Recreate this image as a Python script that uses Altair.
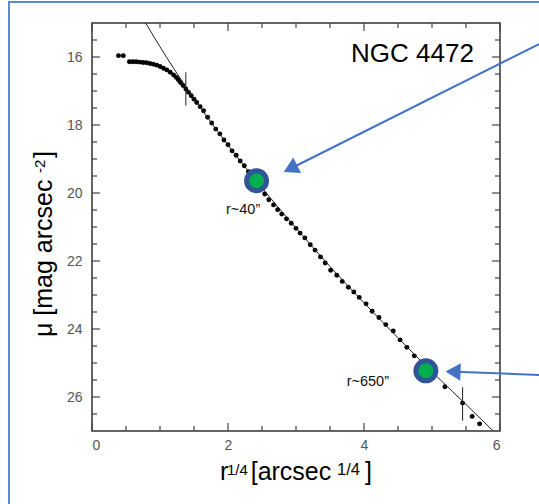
import altair as alt
import pandas as pd

FONT = "Liberation Sans"

# Surface-brightness profile of NGC 4472: r^(1/4) [arcsec^(1/4)] and mu [mag arcsec^-2]
r14 = [0.39, 0.46,
       0.55, 0.60, 0.65, 0.70, 0.75, 0.80, 0.85, 0.90, 0.95, 1.00, 1.05, 1.10,
       1.15, 1.20, 1.24, 1.27, 1.30, 1.34, 1.38, 1.42, 1.46, 1.50, 1.54, 1.59, 1.64,
       1.70, 1.76, 1.82, 1.88, 1.94, 2.00, 2.06, 2.12, 2.18, 2.24, 2.30, 2.36, 2.42, 2.48,
       2.54, 2.60, 2.67, 2.73, 2.79, 2.86, 2.93, 3.00, 3.06, 3.13, 3.21, 3.28, 3.36,
       3.43, 3.51, 3.60, 3.68, 3.77, 3.85, 3.93,
       4.03, 4.12, 4.22, 4.32, 4.43, 4.53, 4.63, 4.74, 4.85, 4.96,
       5.19, 5.45, 5.59, 5.70]
mu = [15.96, 15.96,
      16.14, 16.14, 16.14, 16.15, 16.16, 16.17, 16.19, 16.21, 16.24, 16.28, 16.33, 16.38,
      16.45, 16.53, 16.60, 16.67, 16.75, 16.84, 16.94, 17.04, 17.14, 17.24, 17.34, 17.46, 17.58,
      17.77, 17.94, 18.12, 18.26, 18.44, 18.58, 18.76, 18.89, 19.06, 19.20, 19.37, 19.50, 19.66, 19.82,
      20.03, 20.20, 20.35, 20.49, 20.62, 20.76, 20.89, 21.04, 21.18, 21.32, 21.52, 21.68, 21.88,
      22.06, 22.27, 22.42, 22.60, 22.77, 22.91, 23.07,
      23.26, 23.48, 23.66, 23.87, 24.06, 24.32, 24.54, 24.79, 25.02, 25.28,
      25.70, 26.18, 26.57, 26.79]

# Fitted profile
fit_r14 = [0.79, 1.00, 1.40, 2.00, 2.50, 3.00, 3.50, 4.00, 4.50, 5.00, 5.50, 5.90]
fit_mu = [15.00, 15.70, 16.93, 18.59, 19.85, 21.03, 22.16, 23.23, 24.26, 25.26, 26.22, 27.00]

# Limits of the fitted range
lim_r14 = [1.38, 5.45]
lim_mu_lo = [16.45, 25.71]
lim_mu_hi = [17.43, 26.70]

# Highlighted radii and their labels
hl_r14 = [2.42, 4.91]
hl_mu = [19.64, 25.23]
hl_label = ["r~40\u201d", "r~650\u201d"]
hl_label_r14 = [1.97, 3.745]
hl_label_mu = [20.62, 25.67]

# Arrows pointing at the highlighted radii
arrow_r14_from = [6.574, 6.574]
arrow_mu_from = [15.62, 25.35]
arrow_r14_to = [2.951, 5.346]
arrow_mu_to = [19.25, 25.26]
arrow_dir = [243.3, 272.0]

# Axis ticks
x_major = [0, 2, 4, 6]
x_minor = [0.5, 1, 1.5, 2.5, 3, 3.5, 4.5, 5, 5.5]
y_major = [16, 18, 20, 22, 24, 26]
y_minor = [15.5, 16.5, 17, 17.5, 18.5, 19, 19.5, 20.5, 21, 21.5,
           22.5, 23, 23.5, 24.5, 25, 25.5, 26.5]

W, H = 408, 408
xs = alt.Scale(domain=[0, 6], nice=False, zero=False)
ys = alt.Scale(domain=[15, 27], reverse=True, nice=False, zero=False)

x_axis = alt.Axis(values=x_major, labelPadding=7, format="d")
y_axis = alt.Axis(values=y_major, labelPadding=10, format="d")


def X(field):
    return alt.X(field, scale=xs, title="", axis=x_axis)


def Y(field):
    return alt.Y(field, scale=ys, title="", axis=y_axis)


profile = pd.DataFrame({"r14": r14, "mu": mu})
fit = pd.DataFrame({"r14": fit_r14, "mu": fit_mu})
lims = pd.DataFrame({"r14": lim_r14, "lo": lim_mu_lo, "hi": lim_mu_hi})
hl = pd.DataFrame({"r14": hl_r14, "mu": hl_mu})
hl_txt = pd.DataFrame({"r14": hl_label_r14, "mu": hl_label_mu, "t": hl_label})
arrows = pd.DataFrame({"x1": arrow_r14_from, "y1": arrow_mu_from,
                       "x2": arrow_r14_to, "y2": arrow_mu_to, "ang": arrow_dir})

TICK = "#444444"

dots = alt.Chart(profile).mark_circle(size=24, color="black", opacity=1).encode(
    x=X("r14:Q"), y=Y("mu:Q"))

fit_line = alt.Chart(fit).mark_line(color="#222222", strokeWidth=1, interpolate="monotone").encode(
    x=X("r14:Q"), y=Y("mu:Q"))

lim_rules = alt.Chart(lims).mark_rule(color="#222222", strokeWidth=1).encode(
    x=X("r14:Q"), y=Y("lo:Q"), y2="hi:Q")

hl_pts = alt.Chart(hl).mark_point(shape="circle", filled=True, fill="#00B050",
                                  stroke="#2F5597", strokeWidth=5, size=400, opacity=1).encode(
    x=X("r14:Q"), y=Y("mu:Q"))

hl_labels = alt.Chart(hl_txt).mark_text(font=FONT, fontSize=14.5, align="left",
                                        baseline="alphabetic", color="#111111").encode(
    x=X("r14:Q"), y=Y("mu:Q"), text="t:N")

arrow_lines = alt.Chart(arrows).mark_rule(color="#4472C4", strokeWidth=2).encode(
    x=X("x1:Q"), x2="x2:Q", y=Y("y1:Q"), y2="y2:Q")

arrow_heads = alt.Chart(arrows).mark_point(shape="triangle", filled=True, color="#4472C4",
                                           size=300, opacity=1).encode(
    x=X("x2:Q"), y=Y("y2:Q"), angle=alt.Angle("ang:Q", scale=None))


def xticks(vals, length):
    df = pd.DataFrame({"v": vals})
    bottom = alt.Chart(df).mark_rule(color=TICK, strokeWidth=1.2).encode(
        x=X("v:Q"), y=alt.value(H - length), y2=alt.value(H))
    top = alt.Chart(df).mark_rule(color=TICK, strokeWidth=1.2).encode(
        x=X("v:Q"), y=alt.value(0), y2=alt.value(length))
    return [bottom, top]


def yticks(vals, length):
    df = pd.DataFrame({"v": vals})
    left = alt.Chart(df).mark_rule(color=TICK, strokeWidth=1.2).encode(
        y=Y("v:Q"), x=alt.value(0), x2=alt.value(length))
    right = alt.Chart(df).mark_rule(color=TICK, strokeWidth=1.2).encode(
        y=Y("v:Q"), x=alt.value(W - length), x2=alt.value(W))
    return [left, right]


def text_piece(s, x, y, size, angle=0, color="black"):
    return alt.Chart(pd.DataFrame({"t": [s]})).mark_text(
        font=FONT, fontSize=size, align="left", baseline="alphabetic",
        angle=angle, color=color).encode(
        text="t:N", x=alt.value(x), y=alt.value(y))


titles = [
    # x-axis title with superscripts
    text_piece("r", 128, 457, 25),
    text_piece("1/4", 135, 452, 15),
    text_piece("[arcsec", 158.7, 457, 25),
    text_piece("1/4", 245, 452, 16.5),
    text_piece("]", 273, 457, 25),
    # y-axis title with superscript
    text_piece("\u03bc [mag arcsec", -40, 314, 25, angle=270),
    text_piece("-2", -47, 150, 15, angle=270),
    text_piece("]", -40, 135, 25, angle=270),
    # object name
    text_piece("NGC 4472", 259, 38.7, 26),
]

frame = alt.Chart(pd.DataFrame({"f": [0]})).mark_rect(
    fill="transparent", stroke="#5B8AD6", strokeWidth=2).encode(
    x=alt.value(-83), x2=alt.value(480), y=alt.value(-21), y2=alt.value(520))

layers = ([dots, frame, fit_line, lim_rules]
          + xticks(x_major, 8) + xticks(x_minor, 5)
          + yticks(y_major, 8) + yticks(y_minor, 5)
          + [arrow_lines, arrow_heads, hl_pts, hl_labels]
          + titles)

chart = alt.layer(*layers).properties(
    width=W, height=H,
    padding={"left": 92, "top": 23, "right": 39, "bottom": 73},
    autosize=alt.AutoSizeParams(type="none"),
    background="white",
).configure_view(
    stroke="#333333", strokeWidth=1.5
).configure_axis(
    ticks=False, tickSize=0, domain=False, grid=False,
    labelFontSize=14, labelColor="#555555", labelFont=FONT,
)

chart.save("out.html", embed_options={"renderer": "svg", "actions": False})
